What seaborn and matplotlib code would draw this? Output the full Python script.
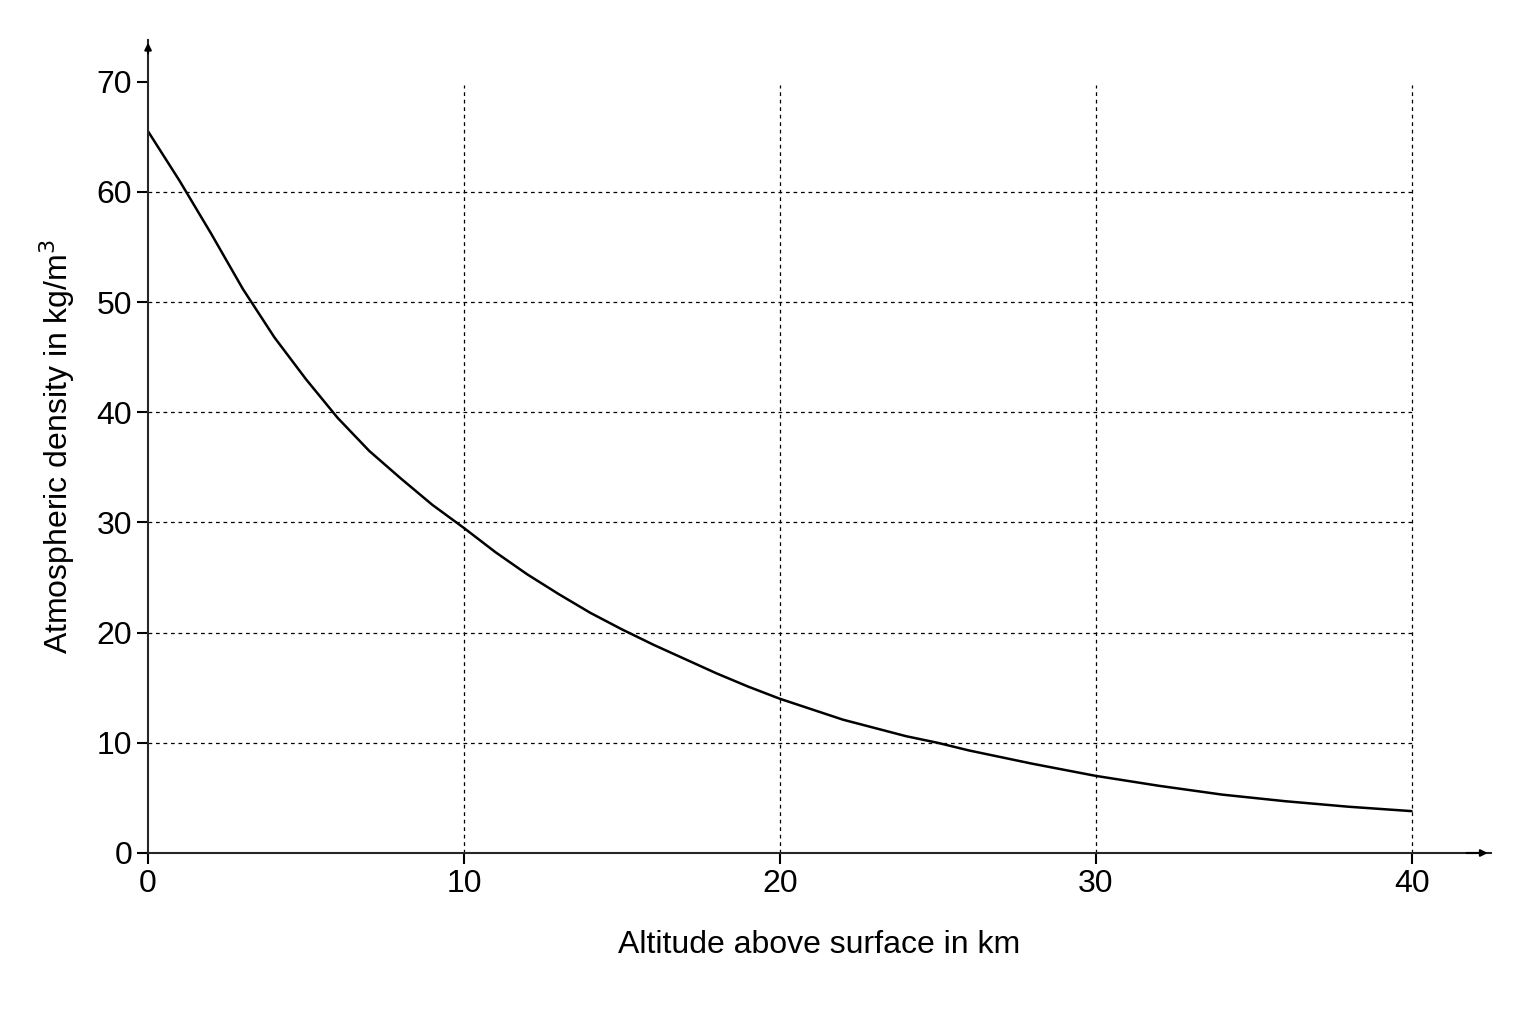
import matplotlib
matplotlib.use('Agg')
import matplotlib.pyplot as plt
import seaborn as sns
import pandas as pd

# values
altitude_km = [0, 1, 2, 3, 4, 5, 6, 7, 8, 9, 10, 11, 12, 13, 14, 15, 16, 17, 18, 19, 20,
               22, 24, 25, 26, 28, 30, 32, 34, 36, 38, 40]
density = [65.5, 61, 56.2, 51.2, 46.8, 43, 39.5, 36.5, 34, 31.6, 29.5, 27.3, 25.3, 23.5, 21.8,
           20.3, 18.9, 17.6, 16.3, 15.1, 14, 12.1, 10.6, 10, 9.3, 8.1, 7, 6.1, 5.3, 4.7, 4.2, 3.8]
x_ticks = [0, 10, 20, 30, 40]
y_ticks = [0, 10, 20, 30, 40, 50, 60, 70]

sns.set_style('white')
plt.rcParams['font.family'] = ['Liberation Sans', 'DejaVu Sans']

fig = plt.figure(figsize=(15.36, 10.24), dpi=100)
ax = fig.add_axes([0.0964, 0.167, 0.874, 0.794])

df = pd.DataFrame({'alt': altitude_km, 'dens': density})
sns.lineplot(data=df, x='alt', y='dens', ax=ax, color='black', linewidth=1.8)

ax.set_xlim(0, 42.5)
ax.set_ylim(0, 73.8)
ax.vlines(x_ticks[1:], 0, 69.7, colors='black', linestyles=(0, (3, 3)), linewidth=0.9)
ax.hlines(y_ticks[1:-1], 0, 40, colors='black', linestyles=(0, (3, 3)), linewidth=0.9)

for s in ['top', 'right']:
    ax.spines[s].set_visible(False)
for s in ['left', 'bottom']:
    ax.spines[s].set_linewidth(1.5)
ax.annotate('', xy=(1.0, 0), xycoords='axes fraction', xytext=(0.98, 0),
            arrowprops=dict(arrowstyle='-|>', color='black', lw=1.5))
ax.annotate('', xy=(0, 1.0), xycoords='axes fraction', xytext=(0, 0.98),
            arrowprops=dict(arrowstyle='-|>', color='black', lw=1.5))

ax.set_xticks(x_ticks)
ax.set_yticks(y_ticks)
ax.tick_params(axis='both', labelsize=23, length=8, width=1.5, direction='out',
               bottom=True, left=True, colors='black', labelcolor='black')
ax.set_xlabel('Altitude above surface in km', fontsize=23, labelpad=22, color='black')
ax.set_ylabel('Atmospheric density in kg/m$^3$', fontsize=23, labelpad=14, color='black')

fig.savefig('out.png', dpi=100)
